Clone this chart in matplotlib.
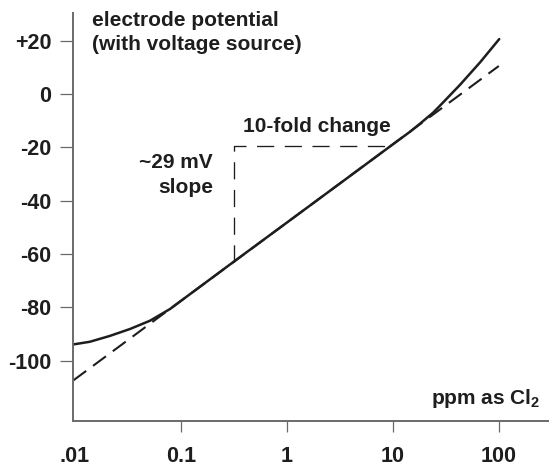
import numpy as np
import matplotlib
matplotlib.use("Agg")
import matplotlib.pyplot as plt

plt.rcParams['font.family'] = ['Liberation Sans', 'DejaVu Sans']
plt.rcParams['font.weight'] = 'bold'
plt.rcParams['mathtext.fontset'] = 'custom'
plt.rcParams['mathtext.rm'] = 'Liberation Sans:bold'
plt.rcParams['mathtext.bf'] = 'Liberation Sans:bold'

# measured response curve (ppm as Cl2, mV)
curve_ppm = [0.0097, 0.0139, 0.0215, 0.0333, 0.0514, 0.0794, 0.114, 0.316, 1, 3.16,
             10, 14.6, 18.1, 24, 28, 43.2, 66.7, 101]
curve_mv = [-93.9, -92.9, -90.7, -88.1, -85.0, -80.6, -75.95, -62.9, -48.25, -33.6,
            -18.9, -14.1, -11.1, -7.0, -4.3, 3.5, 11.9, 20.6]

# ideal ~29 mV/decade slope
slope_ppm = [0.0097, 100]
slope_mv = [-107.4, 10.5]

# 10-fold change marker
step_ppm = [0.316, 0.316, 9.6]
step_mv = [-62.9, -19.5, -19.5]

xticks = [0.01, 0.1, 1, 10, 100]
xlabels = ['.01', '0.1', '1', '10', '100']
yticks = [20, 0, -20, -40, -60, -80, -100]
ylabels = ['+20', '0', '-20', '-40', '-60', '-80', '-100']

ink = '#1e1e1e'
axcol = '#6a6a6a'

fig = plt.figure(figsize=(5.49, 4.66), dpi=100)
ax = fig.add_axes([0.1324, 0.0972, 0.866, 0.875])

ax.plot(slope_ppm, slope_mv, color=ink, lw=1.5, dashes=(7.7, 4.1))
ax.plot(step_ppm, step_mv, color=ink, lw=0.95, dashes=(13, 8))
ax.plot(curve_ppm, curve_mv, color=ink, lw=1.8, solid_capstyle='round',
        solid_joinstyle='round')

ax.set_xscale('log')
ax.set_xlim(0.00958, 292)
ax.set_ylim(-122.5, 30.4)

ax.set_xticks(xticks)
ax.set_xticklabels(xlabels)
ax.set_yticks(yticks)
ax.set_yticklabels(ylabels)
ax.minorticks_off()

for s in ['top', 'right']:
    ax.spines[s].set_visible(False)
for s in ['left', 'bottom']:
    ax.spines[s].set_color(axcol)
    ax.spines[s].set_linewidth(1.4)

ax.tick_params(axis='x', length=8, width=0.9, color=axcol, pad=10, labelsize=15.5, labelcolor=ink)
ax.tick_params(axis='y', length=9.5, width=0.9, color=axcol, pad=6, labelsize=15.5, labelcolor=ink)
ax.xaxis.get_major_ticks()[0].tick1line.set_visible(False)

ax.text(92, 11, 'electrode potential\n(with voltage source)', transform=None, fontsize=15,
        color=ink, ha='left', va='top', linespacing=1.35)
ax.text(243, 127, '10-fold change', fontsize=15, color=ink, ha='left', va='center',
        transform=None)
ax.text(213, 175, '~29 mV\nslope', fontsize=15, color=ink, ha='right', va='center',
        multialignment='right', linespacing=1.4, transform=None)
ax.text(540, 398, r'ppm as Cl$_2$', fontsize=15, color=ink, ha='right', va='center',
        transform=None)

# transform=None texts use display pixels from bottom; convert from top-left coords
for t in ax.texts:
    x, y = t.get_position()
    t.set_position((x, 466 - y))

fig.savefig('out.png', dpi=100)
